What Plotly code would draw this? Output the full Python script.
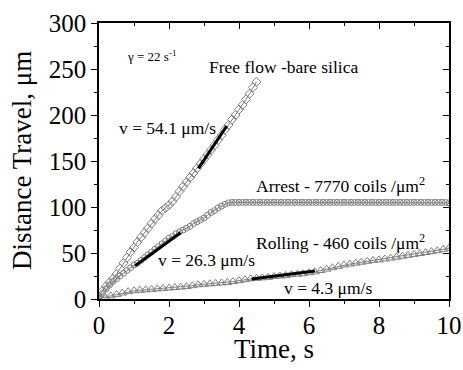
import numpy as np
import plotly.graph_objects as go

# ---- data ----
free_time = np.round(np.linspace(0, 4.5, 46), 3)
free_dist = [2, 9, 14, 18, 22, 27, 33, 39, 45, 51, 56, 62, 67, 72, 77, 82, 87, 91, 96, 99,
             102, 106, 111, 117, 122, 127, 132, 137, 142, 147, 152, 157, 162, 167, 173, 178,
             184, 189, 195, 200, 206, 211, 217, 223, 230, 236]

arrest_time = np.round(np.linspace(0, 10, 101), 3)
arrest_dist = [1, 6, 11, 15, 19, 22, 25, 28, 31, 34, 37, 39, 42, 45, 48, 51, 54, 57, 60, 63,
               66, 68, 71, 73, 75, 77, 79, 82, 84, 86, 88, 91, 94, 96, 99, 101, 103, 104.5, 105,
               105, 105, 105, 105, 105, 105, 105, 105, 105, 105, 105, 105, 105, 105, 105, 105,
               105, 105, 105, 105, 105, 105, 105, 105, 105, 105, 105, 105, 105, 105, 105, 105,
               105, 105, 105, 105, 105, 105, 105, 105, 105, 105, 105, 105, 105, 105, 105, 105,
               105, 105, 105, 105, 105, 105, 105, 105, 105, 105, 105, 105, 105, 104.5]

roll_time = np.round(np.linspace(0, 10, 61), 3)
roll_dist = [0.5, 2, 3.5, 5, 6.5, 8, 9, 9.5, 10, 10.5, 11, 11.5, 12, 12.5, 13, 13.5, 14.5,
             15.5, 16, 16.5, 17, 17.5, 18, 19, 20, 21, 22, 22.5, 23, 23.5, 24.5, 25, 25.5,
             26.5, 27, 27.5, 28.5, 29.5, 31, 32.5, 34, 35.5, 37, 38, 39, 40, 41, 42, 42.5,
             43.5, 44.5, 45.5, 46.5, 47.5, 48.5, 49.5, 50.5, 51.5, 52.5, 54, 55.5]

fit_free_t, fit_free_d = [2.84, 3.65], [142, 188]
fit_arrest_t, fit_arrest_d = [1.03, 2.33], [36, 72]
fit_roll_t, fit_roll_d = [4.36, 6.17], [21.7, 30.4]

x_ticks = [0, 2, 4, 6, 8, 10]
y_ticks = [0, 50, 100, 150, 200, 250, 300]

FONT = "Liberation Serif"
GREY = "#808080"

fig = go.Figure()

fig.add_trace(go.Scatter(x=free_time, y=free_dist, mode="lines+markers",
                         line=dict(color=GREY, width=1),
                         marker=dict(symbol="diamond-open", size=7, color=GREY, line=dict(width=1)),
                         showlegend=False))
fig.add_trace(go.Scatter(x=arrest_time, y=arrest_dist, mode="lines+markers",
                         line=dict(color=GREY, width=1),
                         marker=dict(symbol="circle-open", size=6, color=GREY, line=dict(width=1)),
                         showlegend=False))
fig.add_trace(go.Scatter(x=roll_time, y=roll_dist, mode="lines+markers",
                         line=dict(color=GREY, width=1),
                         marker=dict(symbol="triangle-up-open", size=8, color=GREY, line=dict(width=1)),
                         showlegend=False))

for ft, fd in [(fit_free_t, fit_free_d), (fit_arrest_t, fit_arrest_d), (fit_roll_t, fit_roll_d)]:
    fig.add_trace(go.Scatter(x=ft, y=fd, mode="lines", line=dict(color="black", width=3),
                             showlegend=False))

# invisible trace to activate top/right mirror axes
fig.add_trace(go.Scatter(x=[0], y=[0], xaxis="x2", yaxis="y2", mode="markers",
                         marker=dict(opacity=0), showlegend=False, hoverinfo="skip"))

ann = [
    dict(x=1.5, y=264, text="γ = 22 s<sup>-1</sup>", size=13),
    dict(x=5.26, y=252, text="Free flow -bare silica", size=17.5),
    dict(x=1.95, y=186, text="v = 54.1 μm/s", size=17.5),
    dict(x=6.9, y=124, text="Arrest - 7770 coils /μm<sup>2</sup>", size=17.5),
    dict(x=6.9, y=62, text="Rolling - 460 coils /μm<sup>2</sup>", size=17.5),
    dict(x=3.06, y=42, text="v = 26.3 μm/s", size=17.5),
    dict(x=6.54, y=12, text="v = 4.3 μm/s", size=17.5),
]
for a in ann:
    fig.add_annotation(x=a["x"], y=a["y"], text=a["text"], showarrow=False,
                       xanchor="center", yanchor="middle",
                       font=dict(family=FONT, size=a["size"], color="black"))

# axis titles placed in plot-area (paper) coordinates
fig.add_annotation(xref="paper", yref="paper", x=0.4986, y=-0.18, text="Time, s",
                   xanchor="center", yanchor="middle",
                   showarrow=False, font=dict(family=FONT, size=27, color="black"))
fig.add_annotation(xref="paper", yref="paper", x=-0.22, y=0.5, text="Distance Travel, μm",
                   xanchor="center", yanchor="middle",
                   textangle=-90, showarrow=False, font=dict(family=FONT, size=27, color="black"))

common = dict(showgrid=False, zeroline=False, linecolor="black", linewidth=1.5, automargin=False)

fig.update_layout(
    width=463, height=370,
    margin=dict(l=99, r=14, t=23, b=71),
    paper_bgcolor="white", plot_bgcolor="white",
    font=dict(family=FONT, color="black"),
    xaxis=dict(range=[0, 10], tickvals=x_ticks, ticks="outside", ticklen=6, tickwidth=1.2,
               tickcolor="black", mirror=True, ticklabeloverflow="allow",
               ticklabelstandoff=-3,
               minor=dict(dtick=1, ticks="outside", ticklen=3, tickcolor="black"),
               tickfont=dict(size=25, family=FONT), **common),
    yaxis=dict(range=[0, 300], tickvals=y_ticks, ticks="outside", ticklen=6, tickwidth=1.2,
               tickcolor="black", mirror=True,
               minor=dict(dtick=25, ticks="outside", ticklen=3, tickcolor="black"),
               tickfont=dict(size=25, family=FONT), **common),
    xaxis2=dict(range=[0, 10], overlaying="x", side="top", tickvals=x_ticks, ticks="inside",
                ticklen=6, tickwidth=1.2, tickcolor="black", showticklabels=False,
                minor=dict(dtick=1, ticks="inside", ticklen=3, tickcolor="black"),
                showgrid=False, zeroline=False, showline=False, automargin=False),
    yaxis2=dict(range=[0, 300], overlaying="y", side="right", tickvals=y_ticks, ticks="inside",
                ticklen=6, tickwidth=1.2, tickcolor="black", showticklabels=False,
                minor=dict(dtick=25, ticks="inside", ticklen=3, tickcolor="black"),
                showgrid=False, zeroline=False, showline=False, automargin=False),
)

fig.write_html("out.html", config={"displayModeBar": False},
               post_script="document.body.style.margin='0';document.body.style.overflow='hidden';")
